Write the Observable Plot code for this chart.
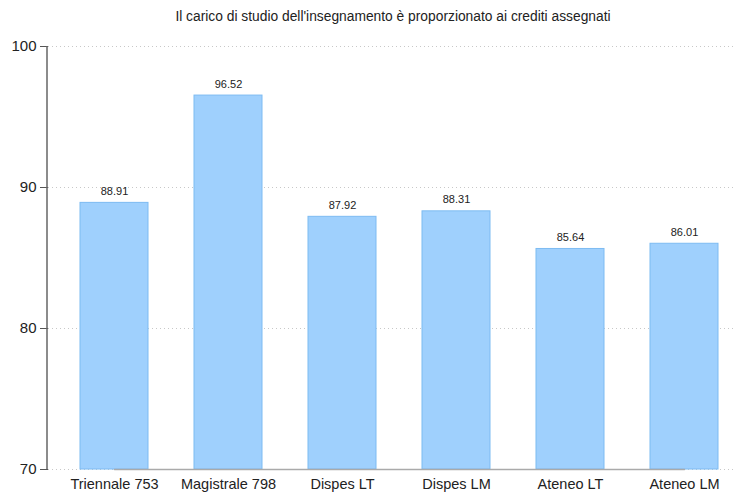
<!DOCTYPE html>
<html>
<head>
<meta charset="utf-8">
<script src="https://cdn.jsdelivr.net/npm/d3@7"></script>
<script src="https://cdn.jsdelivr.net/npm/@observablehq/plot@0.6"></script>
<style>
  body { margin: 0; background: #fff; font-family: "Liberation Sans", Arial, sans-serif; }
  #title { height: 30px; line-height: 34px; text-align: center; font-size: 13.8px; color: #222; padding-left: 46px; box-sizing: border-box; width: 740px; }
</style>
</head>
<body>
<div id="title">Il carico di studio dell'insegnamento è proporzionato ai crediti assegnati</div>
<div id="chart"></div>
<script>
const categories = ["Triennale 753", "Magistrale 798", "Dispes LT", "Dispes LM", "Ateneo LT", "Ateneo LM"];
const values = [88.91, 96.52, 87.92, 88.31, 85.64, 86.01];
const yTicks = [70, 80, 90, 100];
const yDomain = [70, 100];

const data = categories.map((c, i) => ({category: c, value: values[i]}));

const chart = Plot.plot({
  width: 740,
  height: 467,
  marginLeft: 48,
  marginRight: 5,
  marginTop: 16,
  marginBottom: 28,
  style: {fontFamily: "Liberation Sans, Arial, sans-serif", color: "#222", background: "#fff"},
  x: {domain: categories, range: [56, 742], paddingInner: 0.4, paddingOuter: 0.2, label: null},
  y: {domain: yDomain, ticks: yTicks, label: null},
  marks: [
    Plot.gridY(yTicks, {stroke: "#c8c8c8", strokeOpacity: 1, strokeWidth: 1, strokeDasharray: "1,3"}),
    Plot.barY(data, {x: "category", y1: yDomain[0], y2: "value", fill: "#9fd0fd", stroke: "#7dbbf2", strokeWidth: 1}),
    Plot.lineY(categories, {x: d => d, y: () => yDomain[0], stroke: "#aaa", strokeWidth: 1.5}),
    Plot.text(data, {x: "category", y: "value", text: d => d.value.toFixed(2), lineAnchor: "bottom", dy: -8, fontSize: 11, fill: "#222"}),
    Plot.axisY(yTicks, {tickSize: 8, tickPadding: 4, fontSize: 15, stroke: "#555", fill: "#222"}),
    Plot.axisX({tickSize: 0, tickPadding: 9, fontSize: 14.5, fill: "#222"})
  ]
});
// vertical axis line drawn from the y scale's range
const ys = chart.scale("y");
const svg = d3.select(chart);
svg.append("line")
  .attr("x1", 47).attr("x2", 47)
  .attr("y1", ys.apply(yDomain[1])).attr("y2", ys.apply(yDomain[0]))
  .attr("stroke", "#666").attr("stroke-width", 1.5);
document.getElementById("chart").appendChild(chart);
</script>
</body>
</html>
